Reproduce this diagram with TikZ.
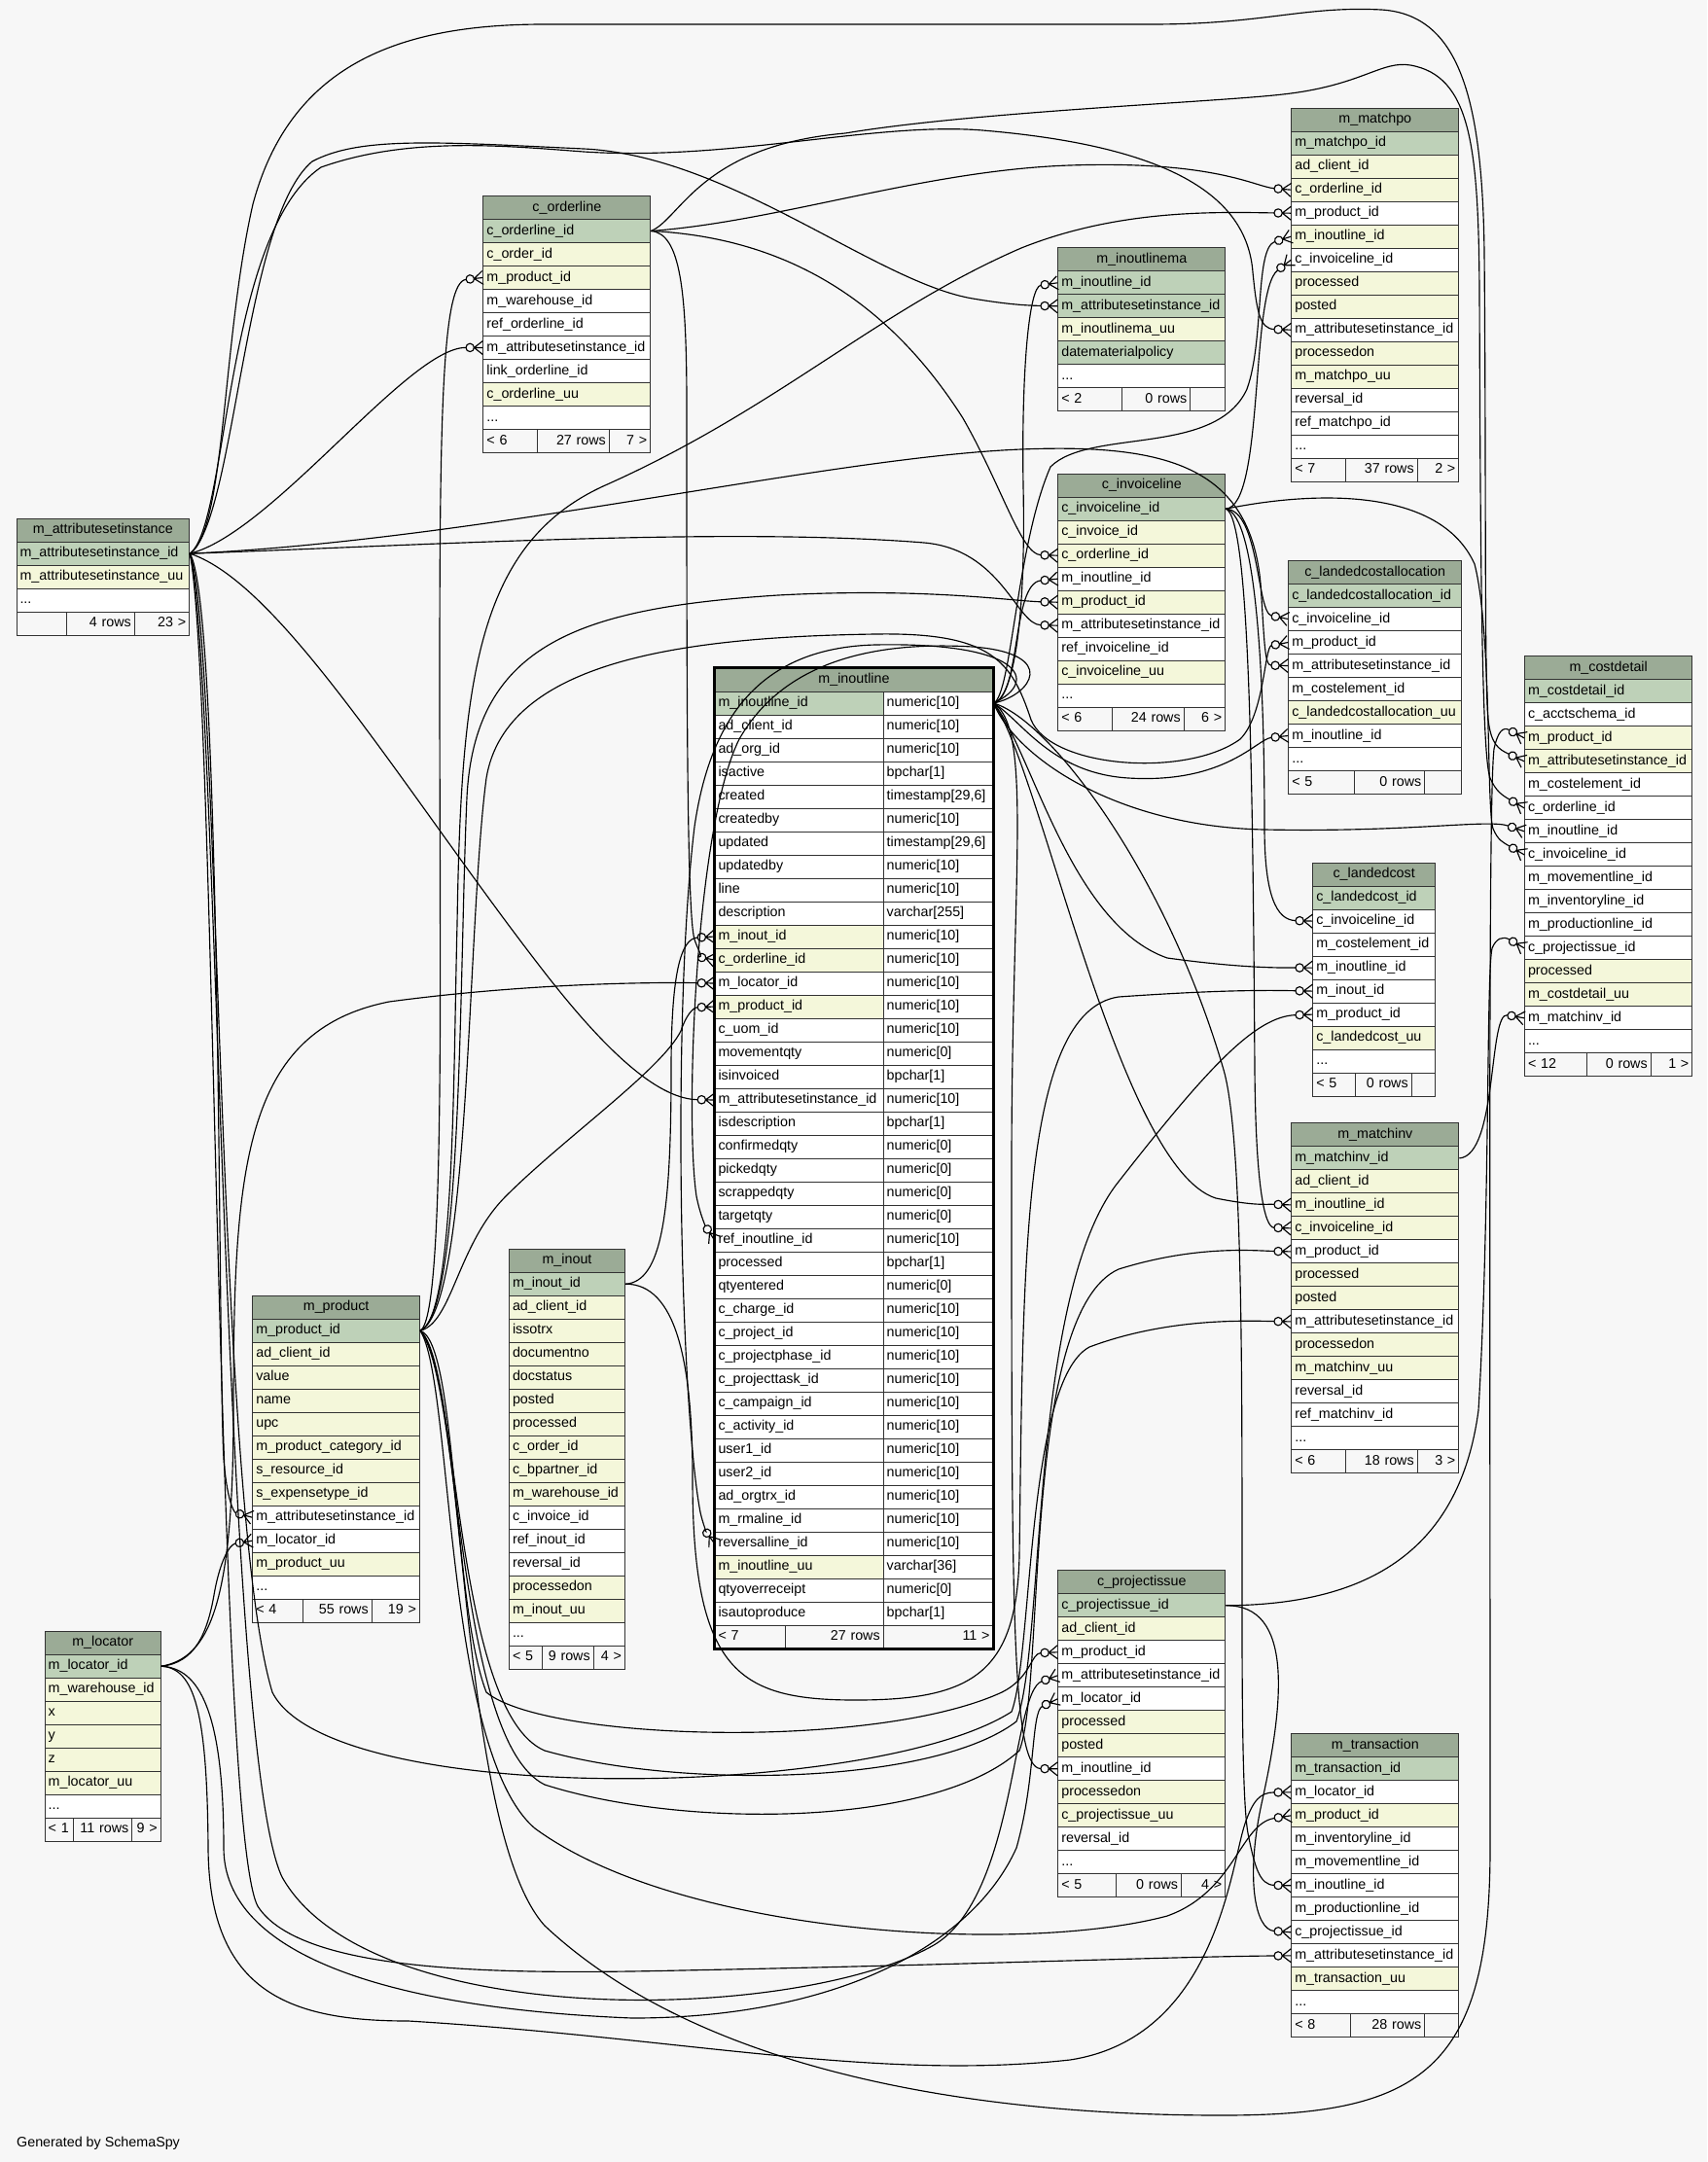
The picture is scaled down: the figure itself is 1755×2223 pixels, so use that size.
\documentclass[tikz,border=0pt]{standalone}
\usepackage{fontspec}
\setmainfont{Liberation Sans}
\usetikzlibrary{arrows.meta}
\definecolor{hdr}{HTML}{9BAB96}
\definecolor{pk}{HTML}{BED1B8}
\definecolor{ix}{HTML}{F4F7DA}
\definecolor{wh}{HTML}{FFFFFF}
\definecolor{bg}{HTML}{F7F7F7}
\definecolor{bd}{HTML}{333333}
\newcommand\tfont{\fontsize{14.3}{17}\selectfont}
\newcommand\tdots{...}
\pgfdeclarearrow{
  name = crowodot,
  setup code = {
    \pgfarrowssettipend{0pt}
    \pgfarrowssetlineend{-17.4pt}
    \pgfarrowssetbackend{-17.6pt}
    \pgfarrowshullpoint{0pt}{7pt}
    \pgfarrowshullpoint{0pt}{-7pt}
    \pgfarrowshullpoint{-17.6pt}{0pt}
  },
  drawing code = {
    \pgfsetdash{}{0pt}
    \pgfsetroundjoin
    \pgfpathmoveto{\pgfqpoint{0pt}{7pt}}
    \pgfpathlineto{\pgfqpoint{-9pt}{0pt}}
    \pgfpathlineto{\pgfqpoint{0pt}{-7pt}}
    \pgfpathmoveto{\pgfqpoint{0pt}{0pt}}
    \pgfpathlineto{\pgfqpoint{-9pt}{0pt}}
    \pgfusepathqstroke
    \pgfpathcircle{\pgfqpoint{-13.2pt}{0pt}}{4.2pt}
    \pgfusepathqstroke
  }
}
\tikzset{
  hdrbox/.style={draw=bd, line width=1pt, fill=hdr, minimum height=24pt, inner sep=0pt, font=\tfont, text height=10.3pt, text depth=2.9pt},
  rowbox/.style={draw=bd, line width=1pt, minimum height=24pt, inner xsep=3.5pt, inner ysep=0pt, font=\tfont, text height=10.3pt, text depth=2.9pt, align=left},
  footbox/.style={rowbox, fill=bg},
  fk/.style={draw=black, line width=1.15pt, -{crowodot}},
}
\newcommand\dbtable[6]{%
  \node[hdrbox, minimum width=#4pt, anchor=north west] (#1-h) at (#2,#3) {#5};
  \pgfmathsetmacro\tbtw{#4-7}
  \foreach \rowc/\rowt [count=\i] in {#6} {
    \node[rowbox, fill=\rowc, text width=\tbtw pt, anchor=north west] (#1-\i) at (#2,#3+24*\i) {\rowt};
    \xdef\tbn{\i}
  }
  \xdef\tbp{#1}\xdef\tbx{#2}\xdef\tby{#3}\xdef\tbw{#4}%
}
\newcommand\dbfoot[5]{%
  \pgfmathsetmacro\fy{\tby+24*(\tbn+1)}
  \pgfmathsetmacro\fwa{#1-\tbx-7}
  \pgfmathsetmacro\fwb{#2-#1-7}
  \pgfmathsetmacro\fwc{\tbx+\tbw-#2-7}
  \node[footbox, text width=\fwa pt, anchor=north west] (\tbp-fa) at (\tbx,\fy) {#3};
  \node[footbox, align=right, text width=\fwb pt, anchor=north west] (\tbp-fb) at (#1,\fy) {#4};
  \node[footbox, align=right, text width=\fwc pt, anchor=north west] (\tbp-fc) at (#2,\fy) {#5};
}
\newcommand\iolrow[4]{%
  \node[rowbox, fill=#2, text width=166.2pt, anchor=north west] (iol-#1) at (734.5,686.5+24*#1) {#3};
  \node[rowbox, fill=wh, text width=105.8pt, anchor=north west] (iol-#1t) at (907.7,686.5+24*#1) {#4};
}
\begin{document}
\catcode`\_=12
\begin{tikzpicture}[x=1pt,y=-1pt]
\useasboundingbox (0,0) rectangle (1755,2223);
\fill[bg] (0,0) rectangle (1755,2223);

% ---------- tables ----------
\dbtable{asi}{16.5}{532.7}{177.7}{m_attributesetinstance}{pk/m_attributesetinstance_id, ix/m_attributesetinstance_uu, wh/\tdots}
\dbfoot{68.3}{137.9}{}{4 rows}{23 >}

\dbtable{ol}{496.4}{201}{171.9}{c_orderline}{pk/c_orderline_id, ix/c_order_id, ix/m_product_id, wh/m_warehouse_id, wh/ref_orderline_id, wh/m_attributesetinstance_id, wh/link_orderline_id, ix/c_orderline_uu, wh/\tdots}
\dbfoot{552.2}{625.9}{< 6}{27 rows}{7 >}

\dbtable{po}{1327.3}{110.7}{172}{m_matchpo}{pk/m_matchpo_id, ix/ad_client_id, ix/c_orderline_id, wh/m_product_id, ix/m_inoutline_id, wh/c_invoiceline_id, ix/processed, ix/posted, wh/m_attributesetinstance_id, ix/processedon, ix/m_matchpo_uu, wh/reversal_id, wh/ref_matchpo_id, wh/\tdots}
\dbfoot{1383.3}{1456.7}{< 7}{37 rows}{2 >}

\dbtable{ma}{1087.3}{254.3}{172}{m_inoutlinema}{pk/m_inoutline_id, pk/m_attributesetinstance_id, ix/m_inoutlinema_uu, pk/datematerialpolicy, wh/\tdots}
\dbfoot{1152.7}{1223.3}{< 2}{0 rows}{}

\dbtable{il}{1087.3}{486.7}{172}{c_invoiceline}{pk/c_invoiceline_id, ix/c_invoice_id, ix/c_orderline_id, wh/m_inoutline_id, ix/m_product_id, wh/m_attributesetinstance_id, wh/ref_invoiceline_id, ix/c_invoiceline_uu, wh/\tdots}
\dbfoot{1143}{1216.7}{< 6}{24 rows}{6 >}

\dbtable{lca}{1324.3}{576}{177.7}{c_landedcostallocation}{pk/c_landedcostallocation_id, wh/c_invoiceline_id, wh/m_product_id, wh/m_attributesetinstance_id, wh/m_costelement_id, ix/c_landedcostallocation_uu, wh/m_inoutline_id, wh/\tdots}
\dbfoot{1392.3}{1464.3}{< 5}{0 rows}{}

\dbtable{cd}{1567}{674.3}{172.3}{m_costdetail}{pk/m_costdetail_id, wh/c_acctschema_id, ix/m_product_id, ix/m_attributesetinstance_id, wh/m_costelement_id, wh/c_orderline_id, wh/m_inoutline_id, wh/c_invoiceline_id, wh/m_movementline_id, wh/m_inventoryline_id, wh/m_productionline_id, wh/c_projectissue_id, ix/processed, ix/m_costdetail_uu, wh/m_matchinv_id, wh/\tdots}
\dbfoot{1631}{1696.7}{< 12}{0 rows}{1 >}

\dbtable{lc}{1349.3}{886.6}{125.7}{c_landedcost}{pk/c_landedcost_id, wh/c_invoiceline_id, wh/m_costelement_id, wh/m_inoutline_id, wh/m_inout_id, wh/m_product_id, ix/c_landedcost_uu, wh/\tdots}
\dbfoot{1392.7}{1450.7}{< 5}{0 rows}{}

\dbtable{mi}{1327.3}{1154.4}{172}{m_matchinv}{pk/m_matchinv_id, ix/ad_client_id, ix/m_inoutline_id, ix/c_invoiceline_id, wh/m_product_id, ix/processed, ix/posted, wh/m_attributesetinstance_id, ix/processedon, ix/m_matchinv_uu, wh/reversal_id, wh/ref_matchinv_id, wh/\tdots}
\dbfoot{1383}{1456.7}{< 6}{18 rows}{3 >}

\dbtable{io}{523}{1283.7}{119}{m_inout}{pk/m_inout_id, ix/ad_client_id, ix/issotrx, ix/documentno, ix/docstatus, ix/posted, ix/processed, ix/c_order_id, ix/c_bpartner_id, ix/m_warehouse_id, wh/c_invoice_id, wh/ref_inout_id, wh/reversal_id, ix/processedon, ix/m_inout_uu, wh/\tdots}
\dbfoot{556.7}{609.7}{< 5}{9 rows}{4 >}

\dbtable{pr}{259.3}{1331.7}{171.7}{m_product}{pk/m_product_id, ix/ad_client_id, ix/value, ix/name, ix/upc, ix/m_product_category_id, ix/s_resource_id, ix/s_expensetype_id, wh/m_attributesetinstance_id, wh/m_locator_id, ix/m_product_uu, wh/\tdots}
\dbfoot{311}{381.7}{< 4}{55 rows}{19 >}

\dbtable{loc}{45.7}{1676.7}{119}{m_locator}{pk/m_locator_id, ix/m_warehouse_id, ix/x, ix/y, ix/z, ix/m_locator_uu, wh/\tdots}
\dbfoot{75.3}{135.3}{< 1}{11 rows}{9 >}

\dbtable{pi}{1087.3}{1614.3}{172}{c_projectissue}{pk/c_projectissue_id, ix/ad_client_id, wh/m_product_id, wh/m_attributesetinstance_id, wh/m_locator_id, ix/processed, ix/posted, wh/m_inoutline_id, ix/processedon, ix/c_projectissue_uu, wh/reversal_id, wh/\tdots}
\dbfoot{1147.3}{1214}{< 5}{0 rows}{4 >}

\dbtable{tr}{1327.3}{1782.3}{172}{m_transaction}{pk/m_transaction_id, wh/m_locator_id, ix/m_product_id, wh/m_inventoryline_id, wh/m_movementline_id, wh/m_inoutline_id, wh/m_productionline_id, wh/c_projectissue_id, wh/m_attributesetinstance_id, ix/m_transaction_uu, wh/\tdots}
\dbfoot{1388.3}{1464.3}{< 8}{28 rows}{}

% m_inoutline (two columns)
\node[hdrbox, minimum width=286pt, anchor=north west] (iol-h) at (734.5,686.5) {m_inoutline};
\iolrow{1}{pk}{m_inoutline_id}{numeric[10]}
\iolrow{2}{wh}{ad_client_id}{numeric[10]}
\iolrow{3}{wh}{ad_org_id}{numeric[10]}
\iolrow{4}{wh}{isactive}{bpchar[1]}
\iolrow{5}{wh}{created}{timestamp[29,6]}
\iolrow{6}{wh}{createdby}{numeric[10]}
\iolrow{7}{wh}{updated}{timestamp[29,6]}
\iolrow{8}{wh}{updatedby}{numeric[10]}
\iolrow{9}{wh}{line}{numeric[10]}
\iolrow{10}{wh}{description}{varchar[255]}
\iolrow{11}{ix}{m_inout_id}{numeric[10]}
\iolrow{12}{ix}{c_orderline_id}{numeric[10]}
\iolrow{13}{wh}{m_locator_id}{numeric[10]}
\iolrow{14}{ix}{m_product_id}{numeric[10]}
\iolrow{15}{wh}{c_uom_id}{numeric[10]}
\iolrow{16}{wh}{movementqty}{numeric[0]}
\iolrow{17}{wh}{isinvoiced}{bpchar[1]}
\iolrow{18}{wh}{m_attributesetinstance_id}{numeric[10]}
\iolrow{19}{wh}{isdescription}{bpchar[1]}
\iolrow{20}{wh}{confirmedqty}{numeric[0]}
\iolrow{21}{wh}{pickedqty}{numeric[0]}
\iolrow{22}{wh}{scrappedqty}{numeric[0]}
\iolrow{23}{wh}{targetqty}{numeric[0]}
\iolrow{24}{wh}{ref_inoutline_id}{numeric[10]}
\iolrow{25}{wh}{processed}{bpchar[1]}
\iolrow{26}{wh}{qtyentered}{numeric[0]}
\iolrow{27}{wh}{c_charge_id}{numeric[10]}
\iolrow{28}{wh}{c_project_id}{numeric[10]}
\iolrow{29}{wh}{c_projectphase_id}{numeric[10]}
\iolrow{30}{wh}{c_projecttask_id}{numeric[10]}
\iolrow{31}{wh}{c_campaign_id}{numeric[10]}
\iolrow{32}{wh}{c_activity_id}{numeric[10]}
\iolrow{33}{wh}{user1_id}{numeric[10]}
\iolrow{34}{wh}{user2_id}{numeric[10]}
\iolrow{35}{wh}{ad_orgtrx_id}{numeric[10]}
\iolrow{36}{wh}{m_rmaline_id}{numeric[10]}
\iolrow{37}{wh}{reversalline_id}{numeric[10]}
\iolrow{38}{ix}{m_inoutline_uu}{varchar[36]}
\iolrow{39}{wh}{qtyoverreceipt}{numeric[0]}
\iolrow{40}{wh}{isautoproduce}{bpchar[1]}
\node[footbox, text width=65.2pt, anchor=north west] (iol-fa) at (734.5,1670.5) {< 7};
\node[footbox, align=right, text width=94pt, anchor=north west] (iol-fb) at (806.7,1670.5) {27 rows};
\node[footbox, align=right, text width=105.8pt, anchor=north west] (iol-fc) at (907.7,1670.5) {11 >};
\draw[line width=3pt, black] (iol-h.north west) rectangle (iol-fc.south east);

\node[font=\tfont, anchor=base west, inner sep=0pt] (gen) at (17,2207) {Generated by SchemaSpy};

% ---------- connectors ----------
% from m_attributesetinstance
\draw[fk] (asi-1.east) .. controls (280,548) and (420,357) .. (ol-6.west);
\draw[fk] (asi-1.east) .. controls (235,540) and (230,240) .. (330,172) .. controls (420,140) and (520,150) .. (600,156) .. controls (750,166) and (900,125) .. (1010,134) .. controls (1200,150) and (1282,200) .. (1288,280) .. controls (1292,320) and (1295,338) .. (po-9.west);
\draw[fk] (asi-1.east) .. controls (242,535) and (250,225) .. (321,166) .. controls (370,140) and (450,146) .. (600,153) .. controls (750,160) and (900,290) .. (1000,307) .. controls (1030,312) and (1050,314) .. (ma-2.west);
\draw[fk] (asi-1.east) .. controls (232,545) and (228,350) .. (260,210) .. controls (300,60) and (420,25) .. (560,25) .. controls (800,25) and (1000,25) .. (1184,25) .. controls (1300,25) and (1340,6) .. (1420,10) .. controls (1500,15) and (1524,100) .. (1526,260) .. controls (1528,500) and (1526,700) .. (1530,740) .. controls (1533,765) and (1540,770) .. (cd-4.west);
\draw[fk] (asi-1.east) .. controls (450,560) and (750,542) .. (950,558) .. controls (1030,565) and (1045,642) .. (il-6.west);
\draw[fk] (asi-1.east) .. controls (500,555) and (850,470) .. (1050,462) .. controls (1200,456) and (1285,480) .. (1296,600) .. controls (1300,660) and (1300,684) .. (lca-4.west);
\draw[fk] (asi-1.east) .. controls (290,600) and (420,820) .. (560,1000) .. controls (630,1090) and (680,1130) .. (iol-18.west);
\draw[fk] (asi-1.east) .. controls (228,620) and (224,1400) .. (230,1500) .. controls (233,1540) and (240,1555) .. (pr-9.west);
\draw[fk] (asi-1.east) .. controls (226,650) and (222,1550) .. (280,1740) .. controls (340,1860) and (900,1850) .. (1040,1760) .. controls (1062,1700) and (1055,1420) .. (1120,1385) .. controls (1200,1355) and (1280,1358) .. (mi-8.west);
\draw[fk] (asi-1.east) .. controls (224,680) and (228,1800) .. (290,1930) .. controls (380,2090) and (820,2080) .. (960,2000) .. controls (1045,1950) and (1040,1740) .. (pi-4.west);
\draw[fk] (asi-1.east) .. controls (222,700) and (222,1880) .. (265,1960) .. controls (310,2030) and (520,2030) .. (700,2026) .. controls (1000,2020) and (1200,2012) .. (tr-9.west);
% from m_product
\draw[fk] (pr-1.east) .. controls (458,1355) and (452,1000) .. (452,700) .. controls (452,420) and (455,290) .. (ol-3.west);
\draw[fk] (pr-1.east) .. controls (468,1355) and (466,1100) .. (470,950) .. controls (474,700) and (490,560) .. (620,500) .. controls (800,420) and (900,320) .. (1050,255) .. controls (1150,215) and (1250,218) .. (po-4.west);
\draw[fk] (pr-1.east) .. controls (476,1350) and (472,1000) .. (480,820) .. controls (488,660) and (600,625) .. (800,612) .. controls (950,604) and (1040,618) .. (il-5.west);
\draw[fk] (pr-1.east) .. controls (484,1345) and (480,950) .. (500,800) .. controls (520,680) and (700,655) .. (900,652) .. controls (1020,650) and (1040,680) .. (1060,740) .. controls (1080,790) and (1220,800) .. (1275,760) .. controls (1300,735) and (1300,665) .. (lca-3.west);
\draw[fk] (pr-1.east) .. controls (465,1360) and (470,1280) .. (520,1230) .. controls (580,1170) and (680,1100) .. (700,1060) .. controls (705,1045) and (712,1036) .. (iol-14.west);
\draw[fk] (pr-1.east) .. controls (470,1380) and (465,1650) .. (500,1740) .. controls (560,1790) and (900,1800) .. (1030,1740) .. controls (1060,1725) and (1060,1700) .. (pi-3.west);
\draw[fk] (pr-1.east) .. controls (472,1400) and (466,1760) .. (560,1800) .. controls (700,1840) and (960,1835) .. (1045,1770) .. controls (1075,1690) and (1058,1330) .. (1150,1215) .. controls (1240,1100) and (1290,1045) .. (lc-6.west);
\draw[fk] (pr-1.east) .. controls (474,1420) and (468,1790) .. (560,1835) .. controls (700,1880) and (960,1880) .. (1048,1800) .. controls (1075,1730) and (1050,1350) .. (1150,1305) .. controls (1230,1280) and (1290,1286) .. (mi-5.west);
\draw[fk] (pr-1.east) .. controls (466,1420) and (456,1800) .. (550,1880) .. controls (700,1990) and (1050,2010) .. (1200,1970) .. controls (1270,1945) and (1275,1875) .. (tr-3.west);
\draw[fk] (pr-1.east) .. controls (480,1420) and (470,1880) .. (560,1980) .. controls (720,2130) and (1000,2175) .. (1256,2175) .. controls (1460,2175) and (1532,2130) .. (1532,1900) .. controls (1532,1300) and (1530,820) .. (1536,770) .. controls (1540,752) and (1545,747) .. (cd-3.west);
% from m_locator
\draw[fk] (loc-1.east) .. controls (200,1710) and (213,1680) .. (220,1640) .. controls (226,1605) and (236,1588) .. (pr-10.west);
\draw[fk] (loc-1.east) .. controls (215,1705) and (240,1650) .. (240,1450) .. controls (240,1200) and (250,1060) .. (400,1030) .. controls (550,1010) and (680,1010) .. (iol-13.west);
\draw[fk] (loc-1.east) .. controls (205,1715) and (230,1760) .. (230,1900) .. controls (230,2010) and (400,2065) .. (650,2075) .. controls (860,2075) and (1000,2000) .. (1045,1900) .. controls (1065,1830) and (1060,1760) .. (pi-5.west);
\draw[fk] (loc-1.east) .. controls (200,1715) and (213,1760) .. (214,1900) .. controls (215,2050) and (300,2078) .. (420,2078) .. controls (700,2095) and (900,2140) .. (1100,2118) .. controls (1250,2095) and (1265,1920) .. (1280,1875) .. controls (1288,1852) and (1295,1843) .. (tr-2.west);
% from m_inout
\draw[fk] (io-1.east) .. controls (680,1318) and (690,1250) .. (690,1100) .. controls (690,1000) and (700,965) .. (iol-11.west);
\draw[fk] (io-1.east) .. controls (695,1320) and (712,1400) .. (712,1520) .. controls (712,1720) and (760,1748) .. (880,1748) .. controls (1000,1748) and (1045,1720) .. (1048,1600) .. controls (1052,1300) and (1050,1040) .. (1150,1025) .. controls (1250,1018) and (1300,1018) .. (lc-5.west);
% from c_orderline
\draw[fk] (ol-1.east) .. controls (800,228) and (950,175) .. (1100,170) .. controls (1250,165) and (1290,192) .. (po-3.west);
\draw[fk] (ol-1.east) .. controls (700,240) and (706,300) .. (706,420) .. controls (706,700) and (706,940) .. (714,966) .. controls (718,978) and (724,985) .. (iol-12.west);
\draw[fk] (ol-1.east) .. controls (820,245) and (920,320) .. (990,430) .. controls (1030,500) and (1050,570) .. (il-3.west);
\draw[fk] (ol-1.east) .. controls (700,225) and (720,150) .. (869,137) .. controls (1000,115) and (1250,105) .. (1319,97) .. controls (1400,88) and (1420,62) .. (1450,67) .. controls (1512,78) and (1520,150) .. (1521,300) .. controls (1522,600) and (1524,780) .. (1532,800) .. controls (1538,814) and (1545,818) .. (cd-6.west);
% from c_invoiceline
\draw[fk] (il-1.east) .. controls (1300,520) and (1285,300) .. (po-6.west);
\draw[fk] (il-1.east) .. controls (1295,525) and (1292,630) .. (lca-2.west);
\draw[fk] (il-1.east) .. controls (1350,505) and (1480,500) .. (1516,580) .. controls (1534,650) and (1528,830) .. (1535,852) .. controls (1540,864) and (1545,866) .. (cd-8.west);
\draw[fk] (il-1.east) .. controls (1292,530) and (1300,700) .. (1300,850) .. controls (1300,920) and (1312,946) .. (lc-2.west);
\draw[fk] (il-1.east) .. controls (1285,532) and (1288,800) .. (1290,1100) .. controls (1291,1220) and (1300,1262) .. (mi-4.west);
% from m_inoutline
\draw[fk] (iol-1t.east) .. controls (1040,715) and (1045,560) .. (1080,480) .. controls (1120,440) and (1250,470) .. (1282,400) .. controls (1300,350) and (1290,255) .. (po-5.west);
\draw[fk] (iol-1t.east) .. controls (1040,718) and (1055,650) .. (1052,500) .. controls (1050,380) and (1058,295) .. (ma-1.west);
\draw[fk] (iol-1t.east) .. controls (1050,715) and (1040,600) .. (il-4.west);
\draw[fk] (iol-1t.east) .. controls (1050,740) and (1080,795) .. (1160,800) .. controls (1260,806) and (1292,760) .. (lca-7.west);
\draw[fk] (iol-1t.east) .. controls (1045,780) and (1150,850) .. (1300,853) .. controls (1450,856) and (1530,842) .. (cd-7.west);
\draw[fk] (iol-1t.east) .. controls (1060,770) and (1100,950) .. (1200,985) .. controls (1280,996) and (1320,995) .. (lc-4.west);
\draw[fk] (iol-1t.east) .. controls (1070,790) and (1150,1200) .. (1250,1232) .. controls (1290,1240) and (1300,1238) .. (mi-3.west);
\draw[fk] (iol-1t.east) .. controls (1062,750) and (1040,900) .. (1040,1200) .. controls (1040,1650) and (1040,1818) .. (pi-8.west);
\draw[fk] (iol-1t.east) .. controls (1080,740) and (1200,900) .. (1258,1100) .. controls (1290,1210) and (1268,1800) .. (1283,1885) .. controls (1290,1920) and (1295,1938) .. (tr-6.west);
\draw[fk] (iol-1t.east) .. controls (1060,715) and (1090,672) .. (1000,665) .. controls (880,658) and (800,690) .. (760,760) .. controls (715,850) and (704,1150) .. (716,1230) .. controls (720,1250) and (726,1262) .. (iol-24.west);
\draw[fk] (iol-1t.east) .. controls (1070,700) and (1050,660) .. (900,663) .. controls (780,666) and (730,740) .. (714,850) .. controls (690,1050) and (700,1450) .. (720,1555) .. controls (724,1572) and (728,1578) .. (iol-37.west);
% from c_projectissue
\draw[fk] (pi-1.east) .. controls (1400,1650) and (1500,1600) .. (1520,1450) .. controls (1532,1250) and (1528,1000) .. (1534,975) .. controls (1538,965) and (1545,962) .. (cd-12.west);
\draw[fk] (pi-1.east) .. controls (1330,1650) and (1320,1750) .. (1298,1850) .. controls (1280,1930) and (1290,1984) .. (tr-8.west);
% from m_matchinv
\draw[fk] (mi-1.east) .. controls (1540,1188) and (1530,1040) .. (cd-15.west);
\end{tikzpicture}
\end{document}
